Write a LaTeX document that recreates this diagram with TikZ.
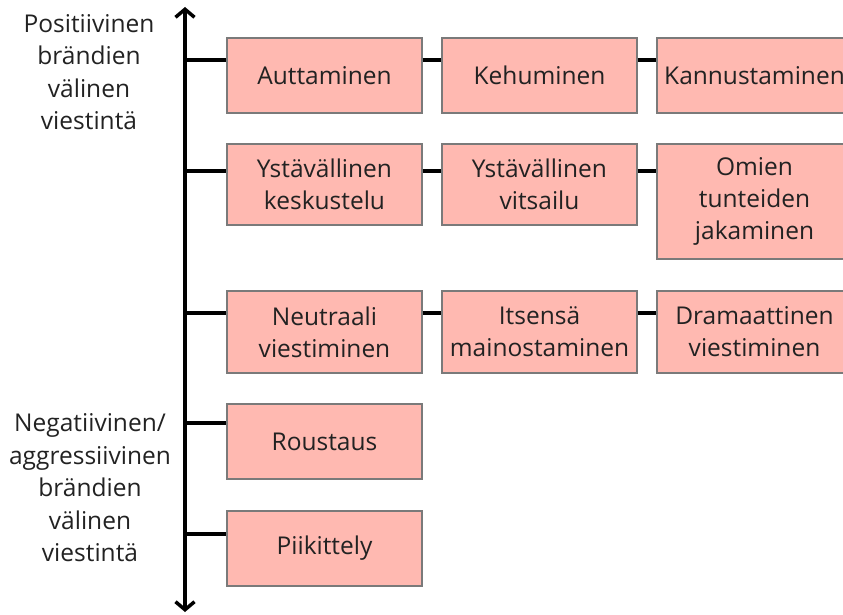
\documentclass[tikz,border=0pt]{standalone}
\usepackage{fontspec}
\setmainfont{Open Sans}
\usepackage{xcolor}
\usetikzlibrary{arrows.meta}
\definecolor{boxfill}{HTML}{FFB9B1}
\definecolor{boxline}{HTML}{7A7A7A}
\definecolor{txt}{HTML}{222222}

\begin{document}
\begin{tikzpicture}[x=1pt, y=-1pt,
    box/.style={draw=boxline, line width=1.2pt, fill=boxfill, text=txt, minimum width=195pt,
      align=center, inner sep=0pt, font=\fontsize{24.5}{32}\selectfont},
    side/.style={text=txt, align=center, font=\fontsize{24.5}{32.5}\selectfont},
    link/.style={line width=3.5pt, black}]
  \useasboundingbox (0,0) rectangle (843,615);
  \begin{scope}
  \clip (0,0) rectangle (843,615);
  % axis
  \coordinate (Top) at (185,7);
  \coordinate (Bottom) at (185,612);
  \draw[link, {Straight Barb[length=8pt, width=19pt]}-{Straight Barb[length=8pt, width=19pt]}] (Top) -- (Bottom);
  % axis labels
  \node[side] (Pos) at (89,72) {Positiivinen\\brändien\\välinen\\viestintä};
  \node[side] (Neg) at (90,488) {Negatiivinen/\\aggressiivinen\\brändien\\välinen\\viestintä};
  % branch points on the axis
  \coordinate (Row-1) at (185,60);
  \coordinate (Row-2) at (185,171);
  \coordinate (Row-3) at (185,313);
  \coordinate (Row-4) at (185,423);
  \coordinate (Row-5) at (185,534);
  % row 1
  \node[box, minimum height=75pt] (Box-11) at (324.5,75.5) {Auttaminen};
  \node[box, minimum height=75pt] (Box-12) at (539.5,75.5) {Kehuminen};
  \node[box, minimum height=75pt] (Box-13) at (754.5,75.5) {Kannustaminen};
  % row 2
  \node[box, minimum height=81pt] (Box-21) at (324.5,184.5) {Ystävällinen\\keskustelu};
  \node[box, minimum height=81pt] (Box-22) at (539.5,184.5) {Ystävällinen\\vitsailu};
  \node[box, minimum height=115pt] (Box-23) at (754.5,201.5) {Omien\\tunteiden\\jakaminen};
  % row 3
  \node[box, minimum height=82pt] (Box-31) at (324.5,332) {Neutraali\\viestiminen};
  \node[box, minimum height=82pt] (Box-32) at (539.5,332) {Itsensä\\mainostaminen};
  \node[box, minimum height=82pt] (Box-33) at (754.5,332) {Dramaattinen\\viestiminen};
  % rows 4 and 5
  \node[box, minimum height=75pt] (Box-41) at (324.5,441.5) {Roustaus};
  \node[box, minimum height=75pt] (Box-51) at (324.5,548.5) {Piikittely};
  % connectors
  \foreach \r in {1,2,3} {
    \draw[link] (Row-\r) -- (Row-\r -| Box-\r1.west);
    \draw[link] (Row-\r -| Box-\r1.east) -- (Row-\r -| Box-\r2.west);
    \draw[link] (Row-\r -| Box-\r2.east) -- (Row-\r -| Box-\r3.west);
  }
  \draw[link] (Row-4) -- (Row-4 -| Box-41.west);
  \draw[link] (Row-5) -- (Row-5 -| Box-51.west);
  \end{scope}
\end{tikzpicture}
\end{document}
